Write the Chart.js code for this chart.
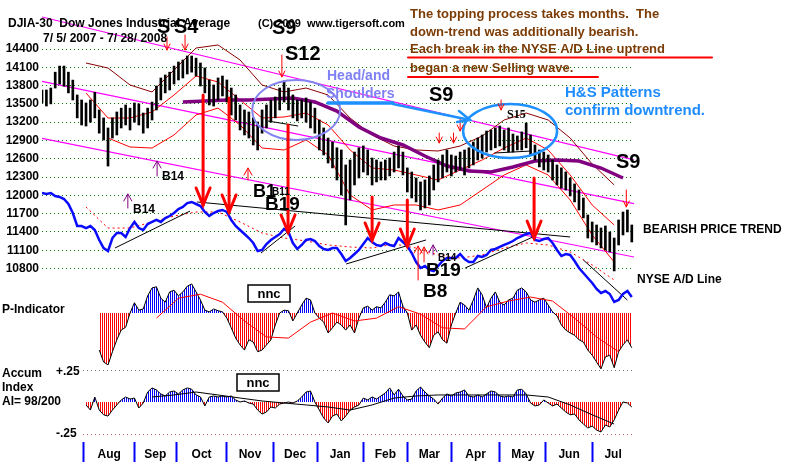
<!DOCTYPE html>
<html>
<head>
<meta charset="utf-8">
<title>DJIA-30 Dow Jones Industrial Average</title>
<script src="https://cdn.jsdelivr.net/npm/chart.js"></script>
<style>
  html, body { margin: 0; padding: 0; background: #fff; }
  #wrap { width: 800px; height: 462px; }
</style>
</head>
<body>
<div id="wrap"><canvas id="djia" width="800" height="462"></canvas></div>
<script>
// x = trading day index, 0 = 7/5/2007 ... 268 = 7/28/2008
const monthNames = ['Aug', 'Sep', 'Oct', 'Nov', 'Dec', 'Jan', 'Feb', 'Mar', 'Apr', 'May', 'Jun', 'Jul'];
const monthStarts = [19, 42, 61, 84, 105, 125, 146, 166, 186, 208, 229, 250];
const lastDay = 269;
const priceTicks = [10800, 11100, 11400, 11700, 12000, 12300, 12600, 12900, 13200, 13500, 13800, 14100, 14400];

// DJIA bars, one every 2nd trading day
const barStep = 2;
const barHigh = [
  13728, 13728, 13760, 14020, 14120, 14120, 14020, 13890, 13646, 13564,
  13515, 13564, 13690, 13400, 13270, 13105, 13270, 13367, 13430, 13482,
  13430, 13515, 13500, 13350, 13430, 13530, 13793, 13925, 13974, 14020,
  14120, 14187, 14220, 14285, 14285, 14250, 14170, 14090, 13892, 13810,
  13925, 13957, 13892, 13760, 13646, 13482, 13400, 13367, 13270, 13203,
  13400, 13482, 13564, 13613, 13760, 13875, 13760, 13646, 13564, 13564,
  13597, 13530, 13430, 13236, 13105, 12940, 12875, 12780, 12744, 12498,
  12580, 12710, 12780, 12810, 12744, 12612, 12580, 12547, 12580, 12612,
  12710, 12810, 12710, 12450, 12383, 12285, 12220, 12252, 12318, 12498,
  12580, 12662, 12744, 12662, 12645, 12710, 12744, 12780, 12875, 12940,
  12990, 13055, 13072, 13105, 13137, 13072, 13105, 13006, 12974, 13040,
  13187, 12990, 12826, 12744, 12710, 12662, 12580, 12498, 12450, 12383,
  12285, 12187, 12088, 11957, 11678, 11563, 11514, 11465, 11498, 11400,
  11300, 11596, 11727, 11760, 11514
];
const barLow = [
  13515, 13465, 13500, 13760, 13826, 13790, 13680, 13564, 13270, 13154,
  13137, 13200, 13270, 13020, 12908, 12480, 12940, 12990, 13105, 13154,
  13072, 13200, 13154, 13020, 13105, 13236, 13400, 13564, 13680, 13728,
  13826, 13892, 13925, 13990, 14020, 13957, 13793, 13680, 13482, 13465,
  13564, 13630, 13530, 13318, 13236, 13072, 12990, 12940, 12826, 12744,
  13020, 13105, 13200, 13270, 13400, 13530, 13400, 13270, 13220, 13270,
  13200, 13105, 13020, 12744, 12662, 12530, 12450, 12252, 12006, 11514,
  11924, 12170, 12285, 12383, 12334, 12170, 12220, 12252, 12252, 12318,
  12383, 12450, 12334, 12055, 11957, 11892, 11760, 11793, 11842, 12088,
  12220, 12285, 12383, 12318, 12383, 12416, 12334, 12450, 12498, 12580,
  12612, 12710, 12744, 12780, 12810, 12744, 12710, 12710, 12744, 12744,
  12780, 12662, 12580, 12466, 12416, 12383, 12252, 12170, 12120, 12088,
  11990, 11892, 11760, 11630, 11300, 11235, 11186, 11137, 11104, 11071,
  10760, 11186, 11350, 11400, 11235
];
// NYSE A/D line, plotted on the price grid like the original
const adLine = [
  12038, 12022, 12038, 11989, 11973, 11940, 11858, 11710, 11497, 11497,
  11464, 11497, 11432, 11268, 11136, 11087, 11300, 11382, 11382, 11317,
  11464, 11563, 11464, 11432, 11530, 11563, 11596, 11563, 11628, 11661,
  11710, 11776, 11809, 11874, 11891, 11858, 11825, 11727, 11661, 11710,
  11743, 11760, 11727, 11596, 11497, 11432, 11366, 11300, 11218, 11087,
  11104, 11202, 11268, 11317, 11366, 11448, 11399, 11218, 11120, 11186,
  11268, 11284, 11251, 11169, 11120, 11104, 11136, 11136, 11038, 10923,
  10972, 11038, 11104, 11202, 11300, 11235, 11186, 11169, 11218, 11186,
  11169, 11300, 11235, 11169, 11054, 10907, 10808, 10841, 10776, 10759,
  10841, 10923, 10972, 10972, 10972, 11038, 10956, 10907, 10907, 11005,
  10989, 11022, 11104, 11120, 11153, 11186, 11218, 11251, 11300, 11333,
  11366, 11382, 11268, 11251, 11284, 11300, 11218, 11104, 11005, 11038,
  11022, 10923, 10808, 10726, 10644, 10562, 10464, 10398, 10431, 10382,
  10251, 10284, 10382, 10431, 10333
];

// smooth overlays, one value every 10 trading days
const bandStep = 10;
const bandUpper = [14170, 14088, 13810, 13695, 14056, 14416, 14466, 14220, 13810, 13695, 13760, 13646, 13268, 12990, 12809, 12744, 12727, 12809, 12973, 13236, 13350, 13236, 12940, 12514, 12170];
const bandMid = [13678, 13268, 13268, 13367, 13646, 13957, 13859, 13564, 13268, 13285, 13350, 13154, 12744, 12448, 12416, 12334, 12252, 12416, 12580, 12776, 12940, 12744, 12334, 11842, 11514];
const bandLower = [12940, 12793, 12776, 12990, 13318, 13432, 13154, 12776, 12744, 12908, 12662, 12006, 11760, 11842, 11842, 11760, 11842, 12088, 12334, 12498, 12334, 11924, 11350, 10907];
const adAverage = [11809, 11464, 11464, 11563, 11661, 11727, 11727, 11563, 11382, 11300, 11251, 11186, 11153, 11136, 11202, 11136, 11022, 10972, 11022, 11136, 11218, 11186, 11071, 10858, 10612];
const ma200 = [13531, 13547, 13564, 13564, 13580, 13596, 13531, 13383, 13121, 12940, 12826, 12645, 12481, 12399, 12383, 12465, 12563, 12580, 12563, 12448, 12284];

// P-Indicator and its red average
const pIndStart = 26;
const pInd = [
  -65, -86, -91, -68, -47, -30, -25, 0, 18, 5,
  7, 30, 44, 46, 26, 19, 37, 40, 30, 37,
  47, 51, 37, 23, 5, 2, 7, 4, 2, -9,
  -26, -44, -56, -65, -47, -51, -68, -65, -56, -47,
  -21, 0, 5, 4, -14, 0, 14, 26, 23, 0,
  -9, -16, -35, -26, -16, -21, -30, -21, -35, -9,
  9, 12, 5, 11, 9, 19, 32, 30, 37, 12,
  0, -30, -21, -39, -51, -61, -39, -33, -47, -53,
  -21, 0, 19, 14, 5, 23, 44, 32, 9, 26,
  37, 19, 14, 23, 26, 40, 44, 37, 23, 19,
  23, 26, 14, 2, -5, -21, -30, -35, -39, -47,
  -51, -65, -74, -86, -98, -77, -74, -96, -68, -56, -47, -61
];
const pIndSignal = [-9, 26, 33, 19, -14, -42, -44, -16, 0, -14, -9, 11, -2, -26, -28, 11, 21, 28, 21, -9, -42, -68];

// Accumulation Index and its black average
const aiStart = 20;
const accumIndex = [
  -0.023, -0.063, 0.039, -0.063, -0.1, -0.11, -0.063, -0.023, 0.016, 0.039,
  0.023, 0.031, -0.047, -0.008, 0.078, 0.11, 0.094, 0.063, 0.047, 0.078,
  0.086, 0.063, 0.094, 0.11, 0.1, 0.055, 0.039, -0.031, 0.039, 0.047,
  0.039, 0.047, 0.039, 0.047, 0.016, 0, 0.008, -0.008, -0.016, -0.063,
  -0.094, -0.078, -0.039, -0.047, -0.016, -0.008, 0, -0.008, 0.008, 0.039,
  0.078, 0.086, 0, -0.063, -0.125, -0.164, -0.11, -0.094, -0.148, -0.11,
  -0.063, -0.039, -0.023, 0.031, 0.016, 0.039, 0.023, 0.047, 0.07, 0.11,
  0.055, 0.1, 0.047, 0.016, 0.023, 0.086, 0.117, 0.078, 0.047, 0.023,
  -0.016, 0.031, 0.063, 0.047, 0.07, 0.078, 0.094, 0.047, 0.039, 0.055,
  0.039, 0.063, 0.086, 0.078, 0.047, 0.039, 0.047, 0.039, 0.094, 0.1,
  0.063, -0.008, -0.031, -0.023, 0.016, -0.008, -0.031, -0.016, -0.047, -0.078,
  -0.1, -0.094, -0.14, -0.172, -0.203, -0.188, -0.219, -0.234, -0.18, -0.195,
  -0.14, -0.063, 0, -0.008, -0.039
];
const aiSignal = [0.039, 0.055, 0.078, 0.055, 0.031, 0.008, -0.008, -0.023, -0.039, -0.063, -0.023, 0.031, 0.047, 0.055, 0.055, 0.055, 0.055, 0.055, 0.039, -0.023, -0.1, -0.172];

// trend lines: [day1, value1, day2, value2]
const channelLines = [[0, 14925, 269, 12580], [0, 13869, 269, 11865], [0, 12934, 269, 10989]];
const adTrendLines = [[33.2, 11137, 67.3, 11743], [70.5, 11891, 240, 11317], [99.5, 11054, 115, 11497], [138.2, 10874, 174.5, 11268], [192.3, 10808, 224, 11333], [246, 10940, 266, 10283]];
const priceTrendLines = [[102.7, 13219, 116.4, 13137], [205.5, 12694, 222.3, 12727]];

// signal arrows: [day, from, to]
const sellArrows = [[73.2, 13646, 11842], [85, 13596, 11727], [111.8, 13154, 11399], [150, 11973, 11268], [166, 11924, 11169], [223.6, 12284, 11300]];
const smallSellArrows = [[56.8, 14597, 14383], [65, 14630, 14383], [109, 14302, 13941], [180.5, 13022, 12858], [187, 13022, 12858], [190, 13268, 13055], [208.6, 13564, 13400], [265.5, 12088, 11809]];
const buyArrows = [[52.3, 12317, 12563, '#800080'], [39, 11792, 12022, '#800080'], [93.6, 12252, 12448, '#ff0000'], [170.9, 10612, 11169, '#ff0000'], [173.6, 10907, 11153, '#ff0000'], [177.7, 11022, 11186, '#800080']];

const FONT = '"Liberation Sans", Arial, sans-serif';
Chart.defaults.font.family = FONT;
Chart.defaults.color = '#000';
Chart.defaults.elements.point.radius = 0;

const series = (vals, start, step) => vals.map((v, i) => ({ x: start + step * i, y: v }));
const seg = (t) => [{ x: t[0], y: t[1] }, { x: t[2], y: t[3] }];

function stripes(color) {
  const c = document.createElement('canvas');
  c.width = 2; c.height = 1;
  const g = c.getContext('2d');
  g.fillStyle = color;
  g.fillRect(0, 0, 1, 1);
  return g.createPattern(c, 'repeat');
}
const blueStripes = stripes('#0000ff');
const redStripes = stripes('#ff0000');

// month ticks: blue separators at month starts, names in between
const monthTicks = [];
const monthLabelAt = {};
monthStarts.forEach((d, k) => {
  monthTicks.push(d);
  const next = k + 1 < monthStarts.length ? monthStarts[k + 1] : lastDay;
  const mid = (d + next) / 2;
  monthTicks.push(mid);
  monthLabelAt[mid] = monthNames[k];
});

const datasets = [
  { label: 'NYSE A/D Line', data: series(adLine, 0, barStep), yAxisID: 'yad', borderColor: '#0a0aff', borderWidth: 2.5, order: 1 },
  { type: 'bar', label: 'DJIA', data: barHigh.map((h, i) => ({ x: i * barStep, y: [barLow[i], h] })), yAxisID: 'y', backgroundColor: '#000', barThickness: 2, order: 2 },
  ...adTrendLines.map(t => ({ data: seg(t), yAxisID: 'yad', borderColor: '#000', borderWidth: 1, order: 3 })),
  ...priceTrendLines.map(t => ({ data: seg(t), yAxisID: 'y', borderColor: '#000', borderWidth: 1, order: 3 })),
  { label: 'MA', data: series(ma200, 64, bandStep), yAxisID: 'y', borderColor: '#800080', borderWidth: 3.5, order: 4 },
  { data: series(bandUpper, 20, bandStep), yAxisID: 'y', borderColor: '#8b0000', borderWidth: 1, order: 5 },
  { data: series(bandMid, 20, bandStep), yAxisID: 'y', borderColor: '#ff0000', borderWidth: 1, order: 5 },
  { data: series(bandLower, 30, bandStep), yAxisID: 'y', borderColor: '#ff0000', borderWidth: 1, order: 5 },
  { data: series(adAverage, 20, bandStep), yAxisID: 'yad', borderColor: '#ff0000', borderWidth: 1, borderDash: [2, 3], order: 6 },
  ...channelLines.map(t => ({ data: seg(t), yAxisID: 'y', borderColor: '#ff00ff', borderWidth: 1.2, order: 7 })),
  { label: 'P-Indicator', data: series(pIndSignal, 52, bandStep), yAxisID: 'yp', borderColor: '#ff0000', borderWidth: 1, order: 8 },
  { data: series(pInd, pIndStart, barStep), yAxisID: 'yp', borderColor: '#000', borderWidth: 1,
    fill: { target: 'origin', above: blueStripes, below: redStripes }, order: 9 },
  { label: 'Accum Index', data: series(aiSignal, 50, bandStep), yAxisID: 'ya', borderColor: '#000', borderWidth: 1, order: 10 },
  { data: series(accumIndex, aiStart, barStep), yAxisID: 'ya', borderColor: '#000', borderWidth: 1,
    fill: { target: 'origin', above: blueStripes, below: redStripes }, order: 11 }
];

function text(ctx, s, x, y, size, color, family) {
  ctx.font = 'bold ' + size + 'px ' + (family || FONT);
  ctx.fillStyle = color || '#000';
  ctx.fillText(s, x, y);
}
function arrow(ctx, x, y1, y2, color, w, hw, hl) {
  const dir = y2 > y1 ? 1 : -1;
  ctx.strokeStyle = color;
  ctx.lineWidth = w;
  ctx.beginPath(); ctx.moveTo(x, y1); ctx.lineTo(x, y2); ctx.stroke();
  ctx.beginPath(); ctx.moveTo(x - hw, y2 - dir * hl); ctx.lineTo(x, y2); ctx.lineTo(x + hw, y2 - dir * hl); ctx.stroke();
}

const notes = {
  id: 'notes',
  beforeDatasetsDraw(chart) {
    const { ctx, chartArea } = chart;
    const sa = chart.scales.ya;
    ctx.save();
    ctx.lineWidth = 1;
    ctx.setLineDash([1, 3]);
    [[0.25, '#707070'], [-0.25, '#d06060']].forEach(([v, col]) => {
      const y = Math.round(sa.getPixelForValue(v)) + 0.5;
      ctx.strokeStyle = col;
      ctx.beginPath(); ctx.moveTo(83, y); ctx.lineTo(chartArea.right, y); ctx.stroke();
    });
    ctx.restore();
  },
  afterDatasetsDraw(chart) {
    const { ctx } = chart;
    const X = d => chart.scales.x.getPixelForValue(d);
    const Y = p => chart.scales.y.getPixelForValue(p);
    ctx.save();
    ctx.textBaseline = 'alphabetic';
    ctx.textAlign = 'left';
    ctx.lineCap = 'round';

    // ellipses round the head & shoulders tops
    ctx.lineWidth = 2;
    ctx.strokeStyle = '#8484f0';
    ctx.beginPath(); ctx.ellipse(X(115.5), Y(13400), 44, 30, 0, 0, Math.PI * 2); ctx.stroke();
    ctx.lineWidth = 2.5;
    ctx.strokeStyle = '#1e90ff';
    ctx.beginPath(); ctx.ellipse(X(212.7), Y(13055), 47, 27, 0, 0, Math.PI * 2); ctx.stroke();

    sellArrows.forEach(a => arrow(ctx, X(a[0]), Y(a[1]), Y(a[2]), '#ff0000', 3, 7, 17));
    smallSellArrows.forEach(a => arrow(ctx, X(a[0]), Y(a[1]), Y(a[2]), '#ff0000', 1, 3, 6));
    buyArrows.forEach(a => arrow(ctx, X(a[0]), Y(a[1]), Y(a[2]), a[3], 1, 4, 7));

    // pointer from the Head/and Shoulders note
    ctx.strokeStyle = '#1e90ff';
    ctx.lineWidth = 3.5;
    ctx.beginPath(); ctx.moveTo(328, 103); ctx.lineTo(393, 103); ctx.stroke();
    ctx.lineWidth = 2.5;
    ctx.beginPath(); ctx.moveTo(393, 104); ctx.lineTo(470, 120); ctx.stroke();
    ctx.beginPath(); ctx.moveTo(459, 111); ctx.lineTo(470, 120); ctx.lineTo(457, 122); ctx.stroke();

    // heading
    text(ctx, 'DJIA-30  Dow Jones Industrial Average', 8, 27, 12);
    text(ctx, '7/ 5/ 2007 - 7/ 28/ 2008', 43, 42, 12);
    text(ctx, '(C) 2009  www.tigersoft.com', 258, 27, 11);

    // signals
    text(ctx, 'S', 157, 33, 20);
    text(ctx, 'S4', 174, 33, 20);
    text(ctx, 'S9', 272, 34, 20);
    text(ctx, 'S12', 285, 60, 20);
    text(ctx, 'S9', 429, 101, 20);
    text(ctx, 'S9', 616, 168, 20);
    text(ctx, 'S15', 507, 118, 12, '#000', '"Liberation Serif", serif');
    text(ctx, 'B14', 162, 180, 12);
    text(ctx, 'B14', 133, 213, 12);
    text(ctx, 'B1', 253, 197, 18);
    text(ctx, 'B11', 272, 195, 10);
    text(ctx, 'B19', 265, 210, 19);
    text(ctx, 'B14', 438, 261, 10);
    text(ctx, 'B19', 426, 276, 19);
    text(ctx, 'B8', 423, 297, 19);

    // commentary
    text(ctx, 'Head/and', 327, 80, 14, '#8080f5');
    text(ctx, 'Shoulders', 326, 98, 14, '#8080f5');
    text(ctx, 'H&S Patterns', 565, 97, 15, '#1e8cff');
    text(ctx, 'confirm downtrend.', 565, 115, 15, '#1e8cff');
    const brown = '#7c3c06';
    text(ctx, 'The topping process takes months.  The', 410, 18, 13, brown);
    text(ctx, 'down-trend was additionally bearish.', 410, 36, 13, brown);
    text(ctx, 'Each break in the NYSE A/D Line uptrend', 410, 53, 13, brown);
    text(ctx, 'began a new Selling wave.', 410, 72, 13, brown);
    ctx.strokeStyle = '#ff0000';
    ctx.lineWidth = 2;
    ctx.beginPath(); ctx.moveTo(408, 57.5); ctx.lineTo(712, 57.5); ctx.stroke();
    ctx.beginPath(); ctx.moveTo(408, 77); ctx.lineTo(598, 77); ctx.stroke();
    text(ctx, 'BEARISH PRICE TREND', 643, 233, 12);
    text(ctx, 'NYSE A/D Line', 637, 283, 12);

    // lower panel titles
    text(ctx, 'P-Indicator', 2, 313, 12);
    text(ctx, 'Accum', 2, 377, 12);
    text(ctx, 'Index', 2, 391, 12);
    text(ctx, 'AI= 98/200', 2, 405, 12);
    text(ctx, '+.25', 56, 375, 12);
    text(ctx, '-.25', 56, 437, 12);

    ctx.lineWidth = 1.5;
    ctx.strokeStyle = '#000';
    ctx.textAlign = 'center';
    [[248, 285], [237, 374]].forEach(([bx, by]) => {
      ctx.fillStyle = '#fff';
      ctx.fillRect(bx, by, 42, 17);
      ctx.strokeRect(bx, by, 42, 17);
      text(ctx, 'nnc', bx + 21, by + 13, 13);
    });
    ctx.restore();
  }
};

new Chart(document.getElementById('djia'), {
  type: 'line',
  data: { datasets },
  options: {
    responsive: false,
    animation: false,
    devicePixelRatio: 1,
    events: [],
    layout: { padding: { left: 0, right: 166, top: 0, bottom: 0 } },
    plugins: { legend: { display: false }, tooltip: { enabled: false }, title: { display: false } },
    scales: {
      x: {
        type: 'linear', min: 0, max: lastDay, offset: false, position: 'bottom',
        afterBuildTicks: s => { s.ticks = monthTicks.map(v => ({ value: v })); },
        afterFit: s => { s.height = 20; s.paddingLeft = 0; s.paddingRight = 0; },
        grid: {
          drawOnChartArea: false, offset: false, tickLength: 20, tickWidth: 2,
          tickColor: c => (c.tick && monthStarts.includes(c.tick.value)) ? '#0000ff' : 'rgba(0,0,0,0)'
        },
        border: { display: false },
        ticks: { autoSkip: false, maxRotation: 0, padding: -15, font: { size: 12, weight: 'bold' },
          callback: v => monthLabelAt[v] || '' }
      },
      y: {
        position: 'left', min: 7954.8, max: 15203.6,
        afterBuildTicks: s => { s.ticks = priceTicks.map(v => ({ value: v })); },
        afterFit: s => { s.width = 42; s.paddingTop = 0; s.paddingBottom = 0; },
        grid: { color: '#008000', drawTicks: false, lineWidth: 1 },
        border: { display: false, dash: [1, 3] },
        ticks: { padding: 3, font: { size: 12, weight: 'bold' }, callback: v => String(v) }
      },
      yad: { display: false, min: 7954.8, max: 15203.6 },
      yp: { display: false, min: -226.3, max: 549.1 },
      ya: { display: false, min: -0.3125, max: 3.1406 }
    }
  },
  plugins: [notes]
});
</script>
</body>
</html>
